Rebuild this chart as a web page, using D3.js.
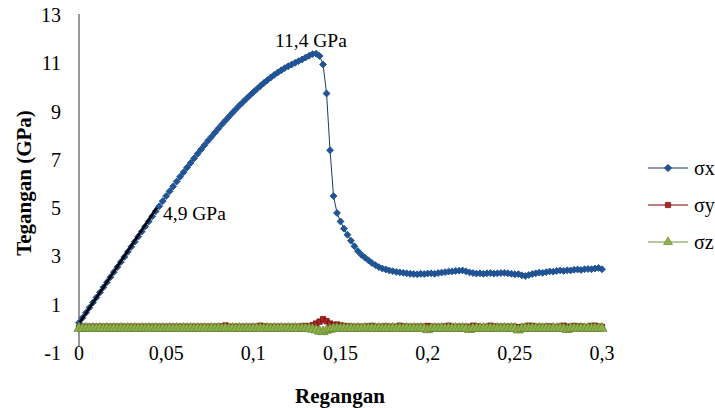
<!DOCTYPE html>
<html>
<head>
<meta charset="utf-8">
<script src="https://cdn.jsdelivr.net/npm/d3@7"></script>
<style>
  body { margin: 0; background: #fff; }
</style>
</head>
<body>
<svg id="chart" width="715" height="408"></svg>
<script>
// strain (Regangan), step 0.002
const strain = [
  0.000,0.002,0.004,0.006,0.008,0.010,0.012,0.014,0.016,0.018,
  0.020,0.022,0.024,0.026,0.028,0.030,0.032,0.034,0.036,0.038,
  0.040,0.042,0.044,0.046,0.048,0.050,0.052,0.054,0.056,0.058,
  0.060,0.062,0.064,0.066,0.068,0.070,0.072,0.074,0.076,0.078,
  0.080,0.082,0.084,0.086,0.088,0.090,0.092,0.094,0.096,0.098,
  0.100,0.102,0.104,0.106,0.108,0.110,0.112,0.114,0.116,0.118,
  0.120,0.122,0.124,0.126,0.128,0.130,0.132,0.134,0.136,0.138,
  0.140,0.142,0.144,0.146,0.148,0.150,0.152,0.154,0.156,0.158,
  0.160,0.162,0.164,0.166,0.168,0.170,0.172,0.174,0.176,0.178,
  0.180,0.182,0.184,0.186,0.188,0.190,0.192,0.194,0.196,0.198,
  0.200,0.202,0.204,0.206,0.208,0.210,0.212,0.214,0.216,0.218,
  0.220,0.222,0.224,0.226,0.228,0.230,0.232,0.234,0.236,0.238,
  0.240,0.242,0.244,0.246,0.248,0.250,0.252,0.254,0.256,0.258,
  0.260,0.262,0.264,0.266,0.268,0.270,0.272,0.274,0.276,0.278,
  0.280,0.282,0.284,0.286,0.288,0.290,0.292,0.294,0.296,0.298,
  0.300
];

const sigmaX = [
  0.25,0.46,0.67,0.88,1.09,1.30,1.51,1.72,1.93,2.14,
  2.35,2.56,2.77,2.98,3.19,3.40,3.61,3.82,4.03,4.24,
  4.45,4.66,4.87,5.08,5.29,5.50,5.70,5.90,6.10,6.30,
  6.49,6.68,6.87,7.06,7.25,7.43,7.61,7.79,7.96,8.13,
  8.30,8.47,8.63,8.79,8.95,9.10,9.25,9.39,9.53,9.67,
  9.80,9.93,10.06,10.18,10.30,10.41,10.52,10.62,10.71,10.80,
  10.88,10.95,11.02,11.09,11.16,11.24,11.31,11.38,11.40,11.30,
  10.95,9.75,7.40,5.50,4.80,4.45,4.15,3.90,3.65,3.42,
  3.22,3.07,2.95,2.84,2.73,2.64,2.56,2.50,2.46,2.42,
  2.39,2.36,2.34,2.32,2.30,2.28,2.27,2.26,2.28,2.27,
  2.29,2.30,2.28,2.31,2.33,2.35,2.37,2.38,2.40,2.41,
  2.42,2.38,2.34,2.31,2.29,2.30,2.28,2.30,2.31,2.29,
  2.30,2.31,2.32,2.30,2.28,2.26,2.27,2.22,2.19,2.23,
  2.27,2.30,2.33,2.32,2.35,2.38,2.37,2.40,2.42,2.40,
  2.43,2.42,2.45,2.46,2.44,2.47,2.48,2.47,2.50,2.52,
  2.47
];

const sigmaY = [
  0.05,0.09,0.08,0.09,0.08,0.09,0.08,0.09,0.08,0.09,
  0.08,0.09,0.08,0.09,0.08,0.09,0.08,0.09,0.08,0.09,
  0.08,0.09,0.08,0.09,0.08,0.09,0.08,0.09,0.08,0.09,
  0.08,0.09,0.08,0.09,0.08,0.09,0.08,0.09,0.08,0.09,
  0.08,0.10,0.14,0.09,0.08,0.09,0.08,0.09,0.08,0.09,
  0.08,0.09,0.13,0.10,0.08,0.09,0.08,0.09,0.08,0.09,
  0.08,0.09,0.08,0.09,0.10,0.12,0.10,0.15,0.22,0.30,
  0.40,0.32,0.22,0.16,0.18,0.14,0.12,0.10,0.09,0.08,
  0.09,0.08,0.09,0.10,0.12,0.09,0.08,0.09,0.10,0.08,
  0.09,0.08,0.13,0.10,0.08,0.09,0.08,0.09,0.08,0.09,
  0.12,0.09,0.08,0.09,0.08,0.10,0.13,0.09,0.08,0.09,
  0.08,0.09,0.08,0.13,0.10,0.08,0.06,0.09,0.13,0.10,
  0.08,0.09,0.08,0.09,0.08,0.09,0.06,0.08,0.09,0.13,
  0.12,0.08,0.09,0.08,0.09,0.10,0.08,0.07,0.10,0.13,
  0.09,0.08,0.12,0.09,0.10,0.06,0.08,0.12,0.13,0.09,
  0.08
];

const sigmaZ = [
  0.02,0.01,0.02,0.01,0.02,0.01,0.02,0.01,0.02,0.01,
  0.02,0.01,0.02,0.01,0.02,0.01,0.02,0.01,0.02,0.01,
  0.02,0.01,0.02,0.01,0.02,0.01,0.02,0.01,0.02,0.01,
  0.02,0.01,0.02,0.01,0.02,0.01,0.02,0.01,0.02,0.01,
  0.02,0.01,0.02,0.01,0.02,0.01,0.02,0.01,0.02,0.01,
  0.02,0.01,0.02,0.01,0.02,0.01,0.02,0.01,0.02,0.01,
  0.02,0.01,0.02,0.01,0.02,0.01,0.01,-0.02,-0.05,-0.10,
  -0.12,-0.06,-0.02,0.01,0.02,0.01,0.02,0.01,0.02,0.01,
  0.02,0.01,0.02,0.01,0.02,0.01,0.02,0.01,0.02,0.01,
  0.02,0.01,0.02,0.01,0.02,0.01,0.02,0.01,0.02,0.01,
  -0.04,0.01,0.02,0.01,0.02,0.01,0.02,0.01,0.02,0.01,
  0.02,0.01,-0.03,0.01,0.02,0.01,0.02,0.01,0.02,0.01,
  0.02,0.01,0.02,0.01,0.02,0.01,-0.05,0.01,0.02,0.01,
  0.02,0.01,0.02,0.01,0.02,0.01,0.02,0.01,0.02,0.01,
  -0.03,0.01,0.02,0.01,0.02,0.01,0.02,0.01,0.02,0.01,
  0.02
];

// linear fit of the elastic part
const trendX = [0.0005, 0.0447];
const trendY = [0.27, 5.03];

const yTicks = [-1, 1, 3, 5, 7, 9, 11, 13];
const xTicks = [0, 0.05, 0.1, 0.15, 0.2, 0.25, 0.3];

const seriesNames = ["σx", "σy", "σz"];

const FONT = '"Liberation Serif", "Times New Roman", serif';

const svg = d3.select("#chart");
const fmt = v => String(v).replace(".", ",");

const x = d3.scaleLinear().domain([0, 0.3]).range([79, 602]);
const y = d3.scaleLinear().domain([-1, 13]).range([353, 15]);

const series = [
  { name: seriesNames[0], values: sigmaX, line: "#1F3864", fill: "#1F5597", stroke: "#1F4E8C", symbol: "diamond" },
  { name: seriesNames[1], values: sigmaY, line: "#7A0000", fill: "#A52A2A", stroke: "#7A0000", symbol: "square" },
  { name: seriesNames[2], values: sigmaZ, line: "#77933C", fill: "#8DB04A", stroke: "#6A8A30", symbol: "triangle" }
];

const symbolPath = {
  diamond: d3.symbol().type(d3.symbolSquare).size(24)(),
  square: d3.symbol().type(d3.symbolSquare).size(28)(),
  triangle: d3.symbol().type(d3.symbolTriangle).size(44)()
};
const symbolRot = { diamond: 45, square: 0, triangle: 0 };

// axis line
svg.append("line")
  .attr("x1", x(0)).attr("x2", x(0))
  .attr("y1", y(13) - 1).attr("y2", 346)
  .attr("stroke", "#333").attr("stroke-width", 1);

// y tick labels
svg.append("g")
  .selectAll("text")
  .data(yTicks)
  .join("text")
  .attr("x", 61)
  .attr("y", d => y(d))
  .attr("dy", "0.35em")
  .attr("text-anchor", "end")
  .style("font-family", FONT)
  .style("font-size", "20px")
  .text(d => d);

// x tick labels
svg.append("g")
  .selectAll("text")
  .data(xTicks)
  .join("text")
  .attr("x", d => x(d))
  .attr("y", 353)
  .attr("dy", "0.35em")
  .attr("text-anchor", "middle")
  .style("font-family", FONT)
  .style("font-size", "20px")
  .text(d => fmt(d));

const lineGen = vals => d3.line()
  .x((d, i) => x(strain[i]))
  .y(d => y(d))(vals);

// draw series
series.forEach(s => {
  const g = svg.append("g");
  g.append("path")
    .attr("d", lineGen(s.values))
    .attr("fill", "none")
    .attr("stroke", s.line)
    .attr("stroke-width", 1);
  g.selectAll("path.m")
    .data(s.values)
    .join("path")
    .attr("class", "m")
    .attr("d", symbolPath[s.symbol])
    .attr("transform", (d, i) => `translate(${x(strain[i])},${y(d)}) rotate(${symbolRot[s.symbol]})`)
    .attr("fill", s.fill)
    .attr("stroke", s.stroke)
    .attr("stroke-width", 0.8);
});

// trend line
svg.append("line")
  .attr("x1", x(trendX[0])).attr("y1", y(trendY[0]))
  .attr("x2", x(trendX[1])).attr("y2", y(trendY[1]))
  .attr("stroke", "#000").attr("stroke-width", 2.6);

// annotations
svg.append("text")
  .attr("x", 163).attr("y", 220)
  .style("font-family", FONT)
  .style("font-size", "19.5px")
  .text("4,9 GPa");
svg.append("text")
  .attr("x", 275).attr("y", 47)
  .style("font-family", FONT)
  .style("font-size", "19.5px")
  .text("11,4 GPa");

// axis titles
svg.append("text")
  .attr("transform", "translate(31,183) rotate(-90)")
  .attr("text-anchor", "middle")
  .style("font-family", FONT)
  .style("font-size", "21px")
  .style("font-weight", "bold")
  .text("Tegangan (GPa)");
svg.append("text")
  .attr("x", 340).attr("y", 403)
  .attr("text-anchor", "middle")
  .style("font-family", FONT)
  .style("font-size", "21px")
  .style("font-weight", "bold")
  .text("Regangan");

// legend
const legendY = [168, 205, 242];
const legend = svg.append("g")
  .selectAll("g")
  .data(series)
  .join("g")
  .attr("transform", (d, i) => `translate(648,${legendY[i]})`);
legend.append("line")
  .attr("x1", 0).attr("x2", 40)
  .attr("stroke", d => d.line).attr("stroke-width", 1.2);
legend.append("path")
  .attr("d", d => d3.symbol().type(d.symbol === "triangle" ? d3.symbolTriangle : d3.symbolSquare).size(d.symbol === "triangle" ? 36 : 28)())
  .attr("transform", d => `translate(20,0) rotate(${symbolRot[d.symbol]})`)
  .attr("fill", d => d.fill)
  .attr("stroke", d => d.stroke)
  .attr("stroke-width", 0.6);
legend.append("text")
  .attr("x", 46)
  .attr("dy", "0.35em")
  .style("font-family", FONT)
  .style("font-size", "20px")
  .text(d => d.name);
</script>
</body>
</html>
